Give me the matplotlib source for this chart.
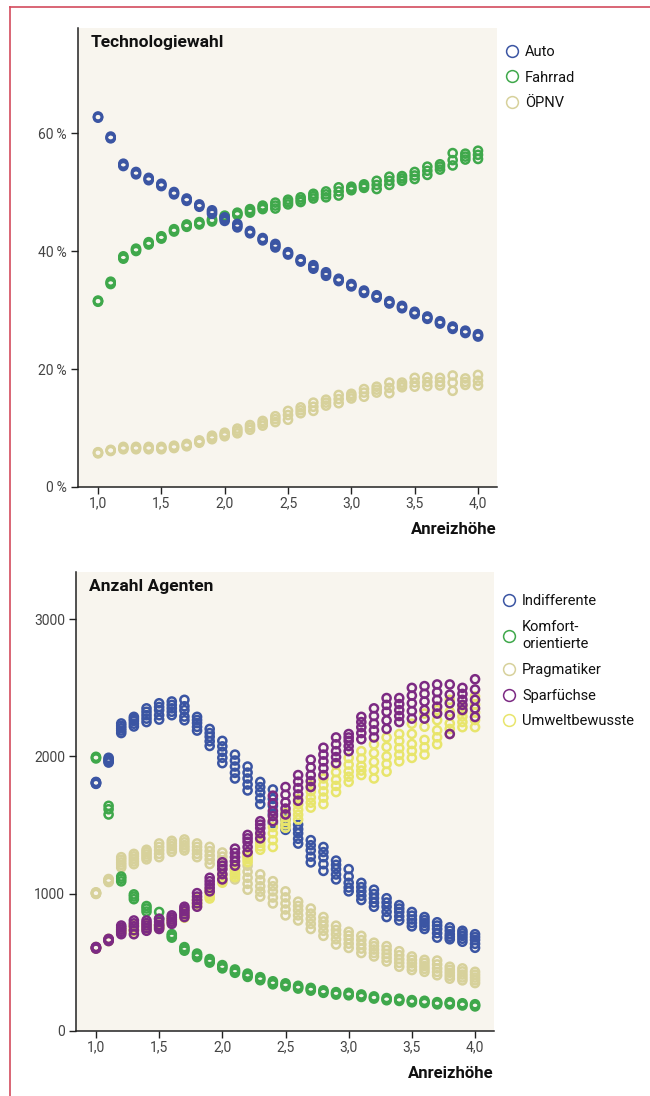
import matplotlib
matplotlib.use("Agg")
import matplotlib.pyplot as plt
from matplotlib.lines import Line2D

plt.rcParams['font.family'] = ['Roboto', 'DejaVu Sans']

# ---------------- data ----------------
x_vals = [1.0, 1.1, 1.2, 1.3, 1.4, 1.5, 1.6, 1.7, 1.8, 1.9, 2.0, 2.1, 2.2, 2.3, 2.4, 2.5,
          2.6, 2.7, 2.8, 2.9, 3.0, 3.1, 3.2, 3.3, 3.4, 3.5, 3.6, 3.7, 3.8, 3.9, 4.0]

# Technologiewahl (percent), observed low / mid / high of the runs per x
auto_lo = [62.6, 59.1, 54.4, 53.0, 52.0, 51.0, 49.6, 48.5, 47.5, 46.3, 45.1, 44.0, 43.0, 41.8, 40.6, 39.4,
           38.2, 37.0, 35.8, 34.9, 34.0, 32.9, 32.1, 31.1, 30.3, 29.3, 28.5, 27.7, 26.8, 26.1, 25.5]
auto_mid = [62.7, 59.2, 54.6, 53.2, 52.2, 51.2, 49.8, 48.7, 47.7, 46.6, 45.4, 44.3, 43.2, 42.0, 40.9, 39.6,
            38.4, 37.3, 36.1, 35.1, 34.2, 33.1, 32.3, 31.3, 30.5, 29.5, 28.7, 27.9, 27.0, 26.3, 25.7]
auto_hi = [62.8, 59.4, 54.8, 53.4, 52.4, 51.4, 50.0, 48.9, 47.9, 46.9, 45.7, 44.6, 43.4, 42.2, 41.2, 39.8,
           38.6, 37.6, 36.4, 35.3, 34.4, 33.3, 32.5, 31.5, 30.7, 29.7, 28.9, 28.1, 27.2, 26.5, 25.9]

fahrrad_lo = [31.4, 34.4, 38.7, 40.0, 41.1, 42.1, 43.3, 44.1, 44.5, 45.0, 45.6, 46.1, 46.5, 47.1, 47.2, 47.9,
              48.3, 48.9, 49.1, 49.4, 50.3, 50.7, 50.5, 51.2, 51.9, 52.2, 52.9, 53.8, 54.5, 55.5, 55.6]
fahrrad_mid = [31.5, 34.6, 38.9, 40.2, 41.3, 42.3, 43.5, 44.3, 44.7, 45.2, 45.8, 46.3, 46.8, 47.4, 47.7, 48.3,
               48.7, 49.3, 49.6, 50.1, 50.6, 51.0, 51.2, 51.9, 52.3, 52.8, 53.6, 54.3, 55.4, 56.0, 56.3]
fahrrad_hi = [31.6, 34.8, 39.1, 40.4, 41.5, 42.5, 43.7, 44.5, 44.9, 45.4, 46.0, 46.5, 47.1, 47.7, 48.2, 48.7,
              49.1, 49.7, 50.1, 50.8, 50.9, 51.3, 51.9, 52.6, 52.7, 53.4, 54.3, 54.7, 56.6, 56.5, 57.0]

oepnv_lo = [5.7, 6.1, 6.4, 6.4, 6.4, 6.4, 6.6, 6.9, 7.5, 8.1, 8.6, 9.1, 9.7, 10.4, 11.0, 11.4,
            12.5, 12.9, 13.8, 14.2, 15.0, 15.3, 16.0, 15.9, 16.9, 17.0, 17.1, 17.2, 16.3, 17.3, 17.2]
oepnv_mid = [5.8, 6.2, 6.6, 6.6, 6.6, 6.6, 6.8, 7.1, 7.7, 8.4, 8.9, 9.5, 10.1, 10.8, 11.5, 12.2,
             13.0, 13.6, 14.3, 14.9, 15.4, 16.0, 16.5, 16.8, 17.3, 17.7, 17.8, 17.8, 17.7, 17.8, 18.0]
oepnv_hi = [5.9, 6.3, 6.8, 6.8, 6.8, 6.8, 7.0, 7.3, 7.9, 8.7, 9.2, 9.9, 10.5, 11.2, 12.0, 12.9,
            13.5, 14.3, 14.8, 15.6, 15.8, 16.6, 17.0, 17.7, 17.7, 18.5, 18.6, 18.5, 18.9, 18.4, 19.0]

# Anzahl Agenten, observed runs per x (low, lower quartile, mid, upper quartile, high)
indiff_lo = [1800, 1955, 2170, 2218, 2250, 2268, 2300, 2263, 2188, 2076, 1951, 1839, 1752, 1652, 1515, 1465,
             1365, 1228, 1166, 1104, 1017, 954, 905, 830, 805, 762, 743, 680, 668, 650, 606]
indiff_q1 = [1803, 1963, 2188, 2238, 2275, 2300, 2325, 2290, 2215, 2110, 1990, 1880, 1795, 1695, 1580, 1500,
             1400, 1270, 1215, 1140, 1045, 985, 935, 868, 835, 787, 765, 712, 686, 672, 635]
indiff_mid = [1807, 1971, 2205, 2258, 2300, 2337, 2350, 2337, 2243, 2143, 2033, 1926, 1839, 1739, 1640, 1540,
              1440, 1316, 1266, 1179, 1079, 1017, 967, 905, 867, 812, 787, 743, 705, 693, 663]
indiff_q3 = [1811, 1980, 2222, 2273, 2325, 2360, 2375, 2365, 2265, 2170, 2073, 1970, 1882, 1776, 1690, 1565,
             1470, 1353, 1303, 1210, 1125, 1048, 998, 936, 892, 840, 808, 768, 730, 712, 684]
indiff_hi = [1814, 1990, 2240, 2288, 2350, 2387, 2400, 2412, 2288, 2200, 2113, 2013, 1926, 1814, 1759, 1590,
             1503, 1390, 1340, 1241, 1179, 1079, 1029, 967, 917, 867, 830, 792, 755, 730, 705]

komfort_lo = [1985, 1577, 1090, 960, 870, 772, 680, 585, 538, 498, 456, 424, 394, 370, 340, 325,
              309, 294, 278, 265, 260, 248, 236, 224, 219, 209, 204, 194, 194, 186, 179]
komfort_mid = [1991, 1615, 1109, 979, 892, 817, 693, 598, 551, 511, 468, 436, 406, 381, 351, 336,
               319, 304, 287, 274, 269, 257, 244, 232, 227, 217, 212, 202, 202, 194, 187]
komfort_hi = [1997, 1640, 1125, 995, 910, 867, 706, 611, 564, 524, 480, 448, 418, 392, 362, 347,
              329, 314, 296, 283, 278, 266, 252, 240, 235, 225, 220, 210, 210, 202, 195]

pragm_lo = [998, 1085, 1191, 1215, 1250, 1266, 1305, 1315, 1266, 1216, 1180, 1104, 1029, 979, 929, 842,
            805, 743, 693, 630, 605, 568, 543, 506, 468, 444, 431, 406, 381, 369, 349]
pragm_q1 = [1001, 1090, 1210, 1234, 1268, 1290, 1325, 1334, 1290, 1248, 1210, 1140, 1072, 1015, 972, 885,
            842, 780, 730, 668, 636, 600, 568, 534, 496, 468, 452, 430, 402, 390, 369]
pragm_mid = [1004, 1096, 1228, 1253, 1286, 1316, 1346, 1353, 1316, 1278, 1241, 1179, 1116, 1054, 1017, 929,
             880, 817, 767, 705, 668, 630, 593, 561, 523, 493, 473, 456, 424, 411, 389]
pragm_q3 = [1007, 1102, 1247, 1272, 1303, 1341, 1366, 1374, 1341, 1310, 1270, 1210, 1160, 1098, 1054, 973,
            911, 855, 798, 736, 696, 662, 618, 590, 552, 518, 496, 485, 446, 434, 410]
pragm_hi = [1010, 1107, 1266, 1290, 1320, 1366, 1385, 1395, 1366, 1341, 1300, 1241, 1204, 1141, 1091, 1017,
            942, 892, 830, 767, 723, 693, 643, 618, 581, 543, 518, 513, 468, 456, 431]

spar_lo = [600, 655, 705, 705, 730, 743, 780, 830, 905, 1017, 1104, 1204, 1303, 1403, 1528, 1577,
           1677, 1777, 1864, 1951, 2038, 2125, 2138, 2200, 2250, 2275, 2275, 2312, 2163, 2338, 2287]
spar_q1 = [603, 659, 722, 734, 749, 758, 796, 851, 930, 1042, 1142, 1235, 1340, 1440, 1565, 1620,
           1723, 1820, 1914, 1995, 2075, 2170, 2190, 2262, 2294, 2330, 2338, 2362, 2300, 2375, 2350]
spar_mid = [606, 663, 738, 763, 768, 773, 812, 872, 954, 1067, 1179, 1266, 1378, 1478, 1602, 1665,
            1769, 1864, 1964, 2038, 2113, 2213, 2238, 2325, 2337, 2387, 2400, 2412, 2387, 2412, 2412]
spar_q3 = [609, 667, 753, 784, 786, 795, 827, 888, 979, 1091, 1204, 1297, 1403, 1503, 1658, 1721,
           1816, 1920, 2013, 2088, 2138, 2250, 2294, 2375, 2381, 2443, 2456, 2468, 2450, 2455, 2487]
spar_hi = [612, 671, 768, 805, 805, 817, 842, 905, 1004, 1116, 1229, 1328, 1428, 1528, 1714, 1777,
           1864, 1976, 2063, 2138, 2163, 2288, 2350, 2425, 2425, 2499, 2512, 2524, 2524, 2499, 2562]

umwelt_lo = [600, 655, 715, 725, 740, 745, 790, 825, 910, 965, 1080, 1120, 1230, 1320, 1340, 1480,
             1540, 1627, 1652, 1740, 1814, 1864, 1839, 1889, 1964, 1989, 2013, 2088, 2163, 2213, 2213]
umwelt_q1 = [603, 659, 722, 738, 750, 752, 797, 835, 922, 982, 1095, 1140, 1250, 1345, 1390, 1505,
             1575, 1663, 1700, 1785, 1852, 1897, 1900, 1945, 2012, 2040, 2066, 2139, 2200, 2250, 2265]
umwelt_mid = [606, 663, 730, 750, 760, 760, 805, 845, 935, 1000, 1110, 1160, 1270, 1370, 1440, 1530,
              1610, 1700, 1745, 1830, 1890, 1930, 1960, 2000, 2060, 2090, 2120, 2190, 2240, 2290, 2320]
umwelt_q3 = [609, 667, 737, 762, 770, 768, 812, 855, 948, 1018, 1125, 1180, 1285, 1395, 1485, 1560,
             1650, 1745, 1792, 1885, 1940, 1984, 2024, 2069, 2112, 2164, 2216, 2264, 2326, 2326, 2378]
umwelt_hi = [612, 671, 745, 775, 780, 775, 820, 865, 960, 1035, 1140, 1200, 1300, 1420, 1530, 1590,
             1690, 1790, 1839, 1939, 1989, 2038, 2088, 2138, 2163, 2238, 2312, 2338, 2412, 2362, 2437]

x_ticks = [1.0, 1.5, 2.0, 2.5, 3.0, 3.5, 4.0]
x_ticklabels = ["1,0", "1,5", "2,0", "2,5", "3,0", "3,5", "4,0"]
top_yticks = [0, 20, 40, 60]
top_yticklabels = ["0\u2009%", "20\u2009%", "40\u2009%", "60\u2009%"]
bot_yticks = [0, 1000, 2000, 3000]
bot_yticklabels = ["0", "1000", "2000", "3000"]

top_labels = ["Auto", "Fahrrad", "ÖPNV"]
bot_labels = ["Indifferente", "Komfort-\norientierte", "Pragmatiker", "Sparfüchse", "Umweltbewusste"]

# ---------------- style ----------------
C_BLUE = "#3b55a3"
C_GREEN = "#3fa84b"
C_TAN = "#d7d19b"
C_PURPLE = "#7c2a83"
C_YELLOW = "#e8e56c"
BG = "#f8f5ee"
TICK_C = "#444444"

fig = plt.figure(figsize=(6.5, 10.96), dpi=100)
W, H = 650.0, 1096.0

ax1 = fig.add_axes([78 / W, 1 - 487 / H, 419 / W, 459 / H])
ax2 = fig.add_axes([76 / W, 1 - 1031 / H, 418 / W, 459 / H])

MS = 34
LW = 1.8


def scatter_runs(ax, runs, color):
    for r in runs:
        ax.scatter(x_vals, r, s=MS, facecolors="none", edgecolors=color, linewidths=LW, zorder=3)


top_series = [
    ([oepnv_lo, oepnv_mid, oepnv_hi], C_TAN),
    ([fahrrad_lo, fahrrad_mid, fahrrad_hi], C_GREEN),
    ([auto_lo, auto_mid, auto_hi], C_BLUE),
]
for runs, col in top_series:
    scatter_runs(ax1, runs, col)

bot_series = [
    ([pragm_lo, pragm_q1, pragm_mid, pragm_q3, pragm_hi], C_TAN),
    ([komfort_lo, komfort_mid, komfort_hi], C_GREEN),
    ([indiff_lo, indiff_q1, indiff_mid, indiff_q3, indiff_hi], C_BLUE),
    ([umwelt_lo, umwelt_q1, umwelt_mid, umwelt_q3, umwelt_hi], C_YELLOW),
    ([spar_lo, spar_q1, spar_mid, spar_q3, spar_hi], C_PURPLE),
]
for runs, col in bot_series:
    scatter_runs(ax2, runs, col)


def style_axes(ax, ylim, yticks, yticklabels, title):
    ax.set_facecolor(BG)
    ax.set_xlim(0.842, 4.15)
    ax.set_ylim(*ylim)
    for s in ["top", "right"]:
        ax.spines[s].set_visible(False)
    ax.spines["left"].set_color("#222222")
    ax.spines["bottom"].set_color("#222222")
    ax.spines["left"].set_linewidth(1.1)
    ax.spines["bottom"].set_linewidth(1.1)
    ax.set_xticks(x_ticks)
    ax.set_xticklabels(x_ticklabels)
    ax.set_yticks(yticks)
    ax.set_yticklabels(yticklabels)
    ax.tick_params(axis="both", colors="#222222", labelcolor=TICK_C, labelsize=10,
                   length=5, width=1.0, direction="out")
    ax.tick_params(axis="x", pad=2)
    ax.tick_params(axis="y", pad=3)
    ax.set_xlabel("Anreizhöhe", loc="right", fontsize=12, fontweight="bold",
                  color="#111111", labelpad=8)
    ax.text(0.031, 0.985, title, transform=ax.transAxes, ha="left", va="top",
            fontsize=12.5, fontweight="bold", color="#111111")


style_axes(ax1, (0, 77.8), top_yticks, top_yticklabels, "Technologiewahl")
style_axes(ax2, (0, 3343), bot_yticks, bot_yticklabels, "Anzahl Agenten")


def make_legend(ax, labels, colors, y_top):
    handles = [Line2D([], [], linestyle="none", marker="o", markersize=8.5,
                      markerfacecolor="none", markeredgecolor=c, markeredgewidth=1.1)
               for c in colors]
    leg = ax.legend(handles, labels, loc="upper left", bbox_to_anchor=(0.985, y_top),
                    frameon=False, fontsize=10.5, handlelength=0.9, handletextpad=0.45,
                    labelspacing=0.8, borderaxespad=0.6, labelcolor="#111111")
    for t in leg.get_texts():
        t.set_linespacing(1.35)
    return leg


make_legend(ax1, top_labels, [C_BLUE, C_GREEN, C_TAN], 0.995)
make_legend(ax2, bot_labels, [C_BLUE, C_GREEN, C_TAN, C_PURPLE, C_YELLOW], 0.984)

# page frame (red border at top and left)
fig.add_artist(Line2D([10 / W, 1.0], [1 - 7 / H, 1 - 7 / H], transform=fig.transFigure,
                      color="#d34b5d", linewidth=1.2))
fig.add_artist(Line2D([10 / W, 10 / W], [0.0, 1 - 7 / H], transform=fig.transFigure,
                      color="#d34b5d", linewidth=1.2))

fig.savefig("out.png", dpi=100, facecolor="white")
